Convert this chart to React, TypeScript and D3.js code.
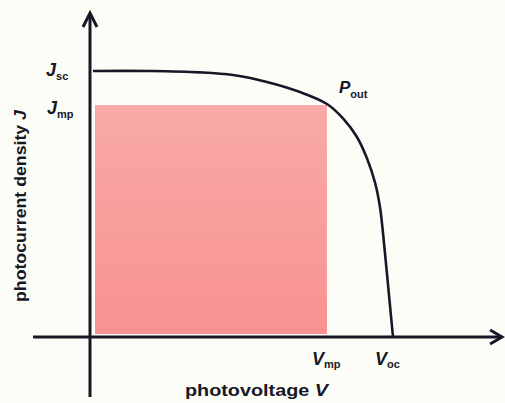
import React from "react";
import * as d3 from "d3";

// J–V curve of a solar cell (normalised units: Voc = 1, Jsc = 1)
const voltage = [0.01, 0.2, 0.363, 0.472, 0.584, 0.693, 0.782, 0.835, 0.881, 0.914, 0.941, 0.957, 0.967, 0.983, 1.0];
const current = [1.0, 1.0, 0.995, 0.985, 0.959, 0.921, 0.876, 0.822, 0.752, 0.672, 0.579, 0.489, 0.391, 0.203, 0.0];

const Vmp = 0.782;
const Jmp = 0.872;
const Voc = 1.0;
const Jsc = 1.0;

// axis extents (data units)
const xAxisExtent = [-0.188, 1.36];
const yAxisExtent = [-0.226, 1.218];

const xLabel = "photovoltage ";
const yLabel = "photocurrent density ";

const W = 505;
const H = 403;

export default function App() {
  const x = d3.scaleLinear().domain([0, 1]).range([90, 393]);
  const y = d3.scaleLinear().domain([0, 1]).range([337, 71]);

  const pts: [number, number][] = voltage.map((v, i) => [v, current[i]]);
  const line = d3
    .line<[number, number]>()
    .x((d) => x(d[0]))
    .y((d) => y(d[1]))
    .curve(d3.curveCatmullRom.alpha(0.5));

  const ink = "#161826";
  const labelFont = "'Liberation Sans', Arial, sans-serif";

  const x0 = x(0);
  const y0 = y(0);
  const xEnd = x(xAxisExtent[1]);
  const yTop = y(yAxisExtent[1]);

  return (
    <svg
      width={W}
      height={H}
      style={{ position: "absolute", left: 0, top: 0, display: "block" }}
    >
      <defs>
        <linearGradient id="pinkGrad" x1="0" y1="0" x2="0" y2="1">
          <stop offset="0%" stopColor="#f8aaa7" />
          <stop offset="100%" stopColor="#f89290" />
        </linearGradient>
      </defs>
      <rect x={0} y={0} width={W} height={H} fill="#fdfdf8" />

      {/* max power rectangle */}
      <rect
        x={x(0) + 5}
        y={y(Jmp)}
        width={x(Vmp) - x(0) - 5}
        height={y(0) - y(Jmp) - 3}
        fill="url(#pinkGrad)"
      />

      {/* axes */}
      <line x1={x(xAxisExtent[0])} y1={y0} x2={xEnd - 1} y2={y0} stroke={ink} strokeWidth={3} />
      <line x1={x0} y1={y(yAxisExtent[0])} x2={x0} y2={yTop + 1} stroke={ink} strokeWidth={3} />
      {/* arrowheads */}
      <path
        d={`M${x0 - 7},${yTop + 14} L${x0},${yTop} L${x0 + 7},${yTop + 14}`}
        fill="none"
        stroke={ink}
        strokeWidth={3}
        strokeLinejoin="miter"
      />
      <path
        d={`M${xEnd - 12},${y0 - 7} L${xEnd},${y0} L${xEnd - 12},${y0 + 7}`}
        fill="none"
        stroke={ink}
        strokeWidth={3}
      />

      {/* J-V curve */}
      <path d={line(pts) || ""} fill="none" stroke={ink} strokeWidth={2.6} />

      {/* labels */}
      <g fontFamily={labelFont} fontWeight="bold" fontStyle="italic" fill={ink}>
        <text x={46} y={y(Jsc) + 5} fontSize={18}>
          J<tspan fontSize={11} fontStyle="normal" dy={4}>sc</tspan>
        </text>
        <text x={47} y={y(Jmp) + 9} fontSize={18}>
          J<tspan fontSize={11} fontStyle="normal" dy={4}>mp</tspan>
        </text>
        <text x={339} y={93} fontSize={17}>
          P<tspan fontSize={11} fontStyle="normal" dy={5}>out</tspan>
        </text>
        <text x={x(Vmp) - 15} y={365} fontSize={18}>
          V<tspan fontSize={11} fontStyle="normal" dy={3}>mp</tspan>
        </text>
        <text x={x(Voc) - 18} y={365} fontSize={18}>
          V<tspan fontSize={11} fontStyle="normal" dy={3}>oc</tspan>
        </text>
      </g>

      <text
        x={185}
        y={396}
        fontFamily={labelFont}
        fontWeight="bold"
        fontSize={16}
        fill={ink}
        textLength={143}
        lengthAdjust="spacingAndGlyphs"
      >
        {xLabel}
        <tspan fontStyle="italic">V</tspan>
      </text>

      <text
        transform={`translate(26,206) rotate(-90)`}
        textAnchor="middle"
        fontFamily={labelFont}
        fontWeight="bold"
        fontSize={16}
        fill={ink}
        textLength={192}
        lengthAdjust="spacingAndGlyphs"
      >
        {yLabel}
        <tspan fontStyle="italic">J</tspan>
      </text>
    </svg>
  );
}
